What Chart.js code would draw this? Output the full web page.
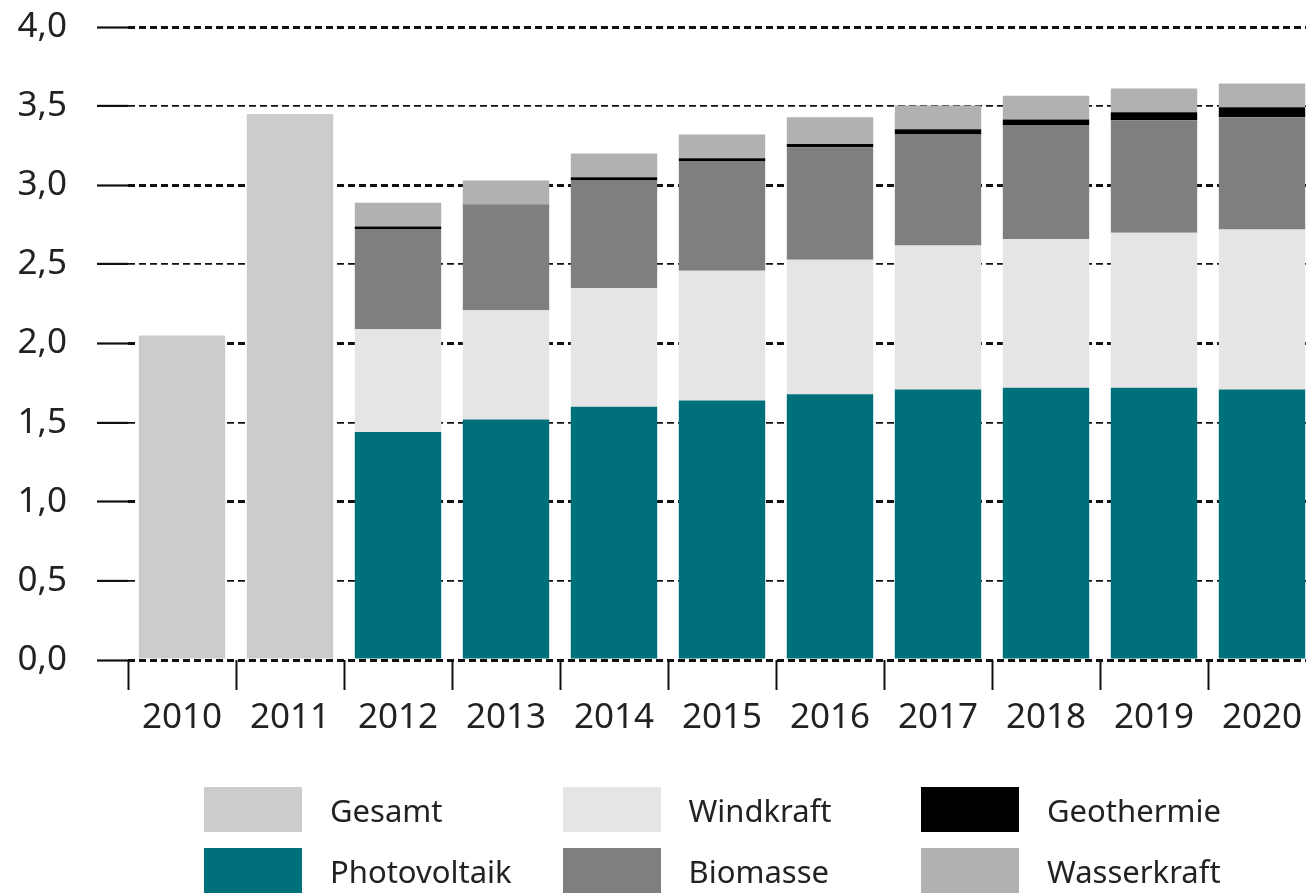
<!DOCTYPE html>
<html lang="de">
<head>
<meta charset="utf-8">
<title>Stromerzeugung</title>
<script src="https://cdn.jsdelivr.net/npm/chart.js@4/dist/chart.umd.min.js"></script>
<style>
  body { margin: 0; background: #fff; overflow: hidden; }
  #wrap { position: relative; width: 1320px; height: 893px; }
  #legend { position: absolute; left: 0; top: 0; }
  .item { position: absolute; display: flex; align-items: center; font-family: "Noto Sans", sans-serif; font-size: 31px; color: #222; }
  .box { width: 98px; height: 45px; margin-right: 28px; }
</style>
</head>
<body>
<div id="wrap">
  <canvas id="bar-chart" width="1320" height="893"></canvas>
  <div id="legend"></div>
</div>
<script>
// Jahre
const years = ["2010", "2011", "2012", "2013", "2014", "2015", "2016", "2017", "2018", "2019", "2020"];

// Werte je Energieträger
const gesamt = [2.05, 3.45, null, null, null, null, null, null, null, null, null];
const photovoltaik = [null, null, 1.44, 1.52, 1.60, 1.64, 1.68, 1.71, 1.72, 1.72, 1.71];
const windkraft = [null, null, 0.65, 0.69, 0.75, 0.82, 0.85, 0.91, 0.94, 0.98, 1.01];
const biomasse = [null, null, 0.63, 0.67, 0.68, 0.69, 0.71, 0.70, 0.72, 0.71, 0.71];
const geothermie = [null, null, 0.02, 0, 0.02, 0.02, 0.02, 0.034, 0.036, 0.051, 0.063];
const wasserkraft = [null, null, 0.15, 0.15, 0.15, 0.15, 0.17, 0.15, 0.15, 0.15, 0.15];

// Achse
const yTicks = [0, 0.5, 1, 1.5, 2, 2.5, 3, 3.5, 4];

const fontFamily = "'Noto Sans', sans-serif";

const chart = new Chart(document.getElementById("bar-chart"), {
  type: "bar",
  data: {
    labels: years,
    datasets: [
      { label: "Gesamt", data: gesamt, backgroundColor: "#cbccce" },
      { label: "Photovoltaik", data: photovoltaik, backgroundColor: "#00707b" },
      { label: "Windkraft", data: windkraft, backgroundColor: "#e5e5e6" },
      { label: "Biomasse", data: biomasse, backgroundColor: "#7e7f80" },
      { label: "Geothermie", data: geothermie, backgroundColor: "#000000" },
      { label: "Wasserkraft", data: wasserkraft, backgroundColor: "#b1b1b2" },
    ],
  },
  options: {
    responsive: false,
    animation: false,
    devicePixelRatio: 1,
    barPercentage: 0.8,
    categoryPercentage: 1.0,
    layout: { padding: { left: 0, right: 4, top: 0, bottom: 0 } },
    plugins: {
      legend: { display: false },
      tooltip: { enabled: false },
    },
    scales: {
      x: {
        stacked: true,
        afterFit: function (axis) {
          axis.height = 233;
        },
        border: { display: false },
        grid: {
          drawOnChartArea: false,
          drawTicks: true,
          tickLength: 30,
          tickColor: "#111",
          tickWidth: 2,
        },
        ticks: {
          padding: 7,
          color: "#222",
          font: { family: fontFamily, size: 35 },
        },
      },
      y: {
        stacked: true,
        min: 0,
        max: 4,
        afterBuildTicks: function (axis) {
          axis.ticks = yTicks.map(function (v) { return { value: v }; });
        },
        afterFit: function (axis) {
          axis.width = 128;
          axis.paddingTop = 27;
        },
        border: { display: false, dash: [7, 4] },
        grid: {
          color: "#111",
          lineWidth: function (ctx) {
            return ctx.tick && Number.isInteger(ctx.tick.value) ? 3 : 1.8;
          },
          drawTicks: true,
          tickLength: 31,
          tickColor: "#111",
          tickWidth: 2.2,
          tickBorderDash: [],
        },
        ticks: {
          padding: 30,
          color: "#222",
          font: { family: fontFamily, size: 35 },
          callback: function (value) {
            return Number(value).toFixed(1).replace(".", ",");
          },
        },
      },
    },
  },
});

// Legende, drei Spalten zu je zwei Zeilen
const legend = document.getElementById("legend");
chart.data.datasets.forEach(function (ds, i) {
  const item = document.createElement("div");
  item.className = "item";
  item.style.left = 204 + Math.floor(i / 2) * 358.5 + "px";
  item.style.top = 787 + (i % 2) * 61 + "px";
  const box = document.createElement("div");
  box.className = "box";
  box.style.background = ds.backgroundColor;
  const text = document.createElement("span");
  text.textContent = ds.label;
  item.appendChild(box);
  item.appendChild(text);
  legend.appendChild(item);
});
</script>
</body>
</html>
